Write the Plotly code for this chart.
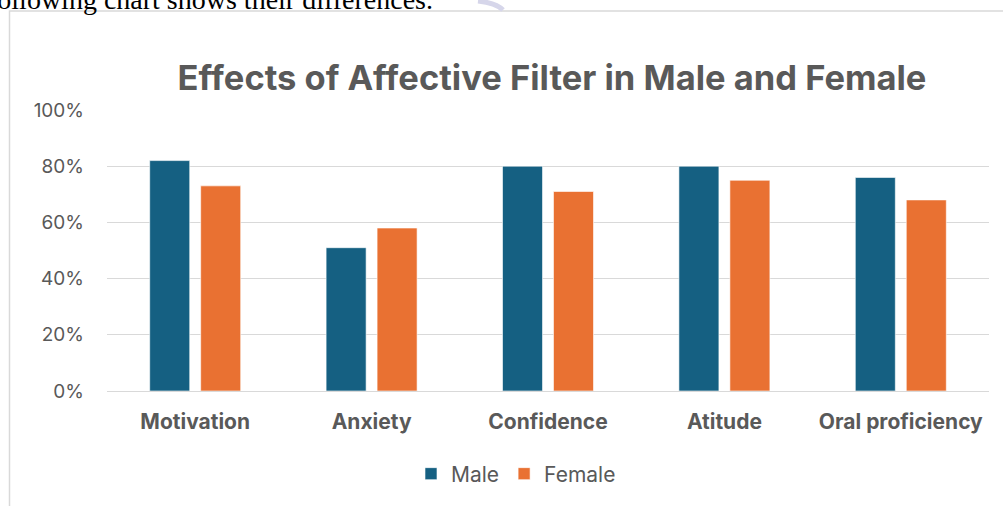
import plotly.graph_objects as go

categories = ["Motivation", "Anxiety", "Confidence", "Atitude", "Oral proficiency"]
male = [0.82, 0.51, 0.80, 0.80, 0.76]
female = [0.73, 0.58, 0.71, 0.75, 0.68]
y_ticks = [0, 0.2, 0.4, 0.6, 0.8, 1.0]
y_tick_labels = ["0%", "20%", "40%", "60%", "80%", "100%"]

W, H = 1003, 506
ml, mr, mt, mb = 107, 14, 110, 115
pw, ph = W - ml - mr, H - mt - mb

def px_x(x):
    return (x - ml) / pw

def px_y(y):
    return 1 - (y - mt) / ph

fig = go.Figure()
fig.add_trace(go.Bar(name="Male", x=categories, y=male, marker=dict(color="#156082", line=dict(color="#ffffff", width=0.6))))
fig.add_trace(go.Bar(name="Female", x=categories, y=female, marker=dict(color="#E97132", line=dict(color="#ffffff", width=0.6))))

font_family = "Inter, 'Open Sans', sans-serif"

fig.update_layout(
    width=W, height=H,
    margin=dict(l=ml, r=mr, t=mt, b=mb),
    paper_bgcolor="white", plot_bgcolor="white",
    barmode="group", bargap=0.422, bargroupgap=0.215,
    font=dict(family=font_family, color="#595959", size=19),
    title=dict(text="<b>Effects of Affective Filter in Male and Female</b>",
               x=px_x(552), xref="paper", xanchor="center",
               y=1 - 78 / H, yref="container", yanchor="middle",
               font=dict(size=34.5, color="#595959", family=font_family)),
    legend=dict(orientation="h", x=px_x(516), xanchor="center", y=px_y(474), yanchor="middle",
                font=dict(size=21, color="#595959"), itemwidth=30, traceorder="normal"),
    showlegend=True,
)
fig.update_yaxes(range=[0, 1.0], tickvals=y_ticks, ticktext=y_tick_labels,
                 showgrid=True, gridcolor="#d9d9d9", gridwidth=1.3, zeroline=False,
                 showline=False, ticks="", ticklabelstandoff=22,
                 tickfont=dict(size=19, color="#595959"))
fig.update_xaxes(showline=True, linecolor="#d9d9d9", linewidth=1.3, ticks="",
                 tickfont=dict(size=21, color="#595959", family=font_family),
                 tickprefix="<b>", ticksuffix="</b>", ticklabelstandoff=12)

# chart border of the embedded picture
fig.add_shape(type="rect", xref="paper", yref="paper",
              x0=px_x(9.5), x1=px_x(1010), y0=px_y(520), y1=px_y(11),
              line=dict(color="#d9d9d9", width=1.5), fillcolor="rgba(0,0,0,0)", layer="below")

# faint watermark fragment at top edge
fig.add_shape(type="path", xref="paper", yref="paper",
              path="M {} {} Q {} {} {} {}".format(px_x(478), px_y(1), px_x(496), px_y(3), px_x(503), px_y(10)),
              line=dict(color="#d6d6ea", width=5), layer="below")

# partially visible document text above the chart
fig.add_annotation(text="following chart shows their differences.", xref="paper", yref="paper",
                   x=px_x(-14), xanchor="left", y=px_y(-1), yanchor="middle", showarrow=False,
                   font=dict(family="Liberation Serif, Times New Roman, serif", size=28, color="#000000"))

fig.write_html("out.html")
